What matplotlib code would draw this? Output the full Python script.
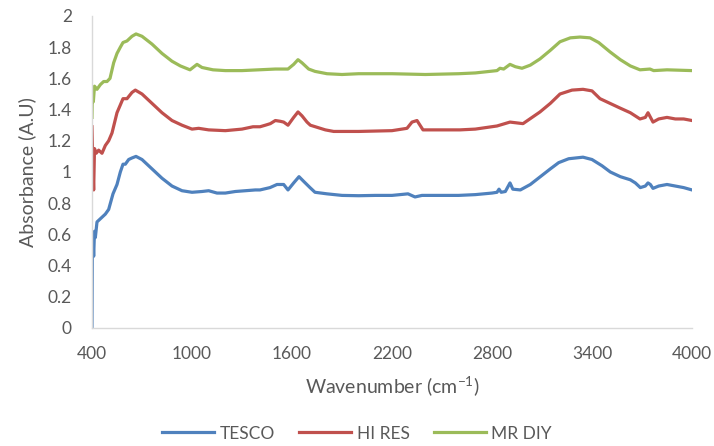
import matplotlib
matplotlib.use("Agg")
import matplotlib.pyplot as plt

tesco_x = [400, 402, 405, 410, 415, 420, 430, 450, 480, 500, 526, 550, 570, 586, 600, 620, 640, 664, 700, 760, 820, 880, 940, 1000, 1060, 1100, 1150, 1200, 1260, 1320, 1380, 1408, 1468, 1510, 1550, 1576, 1610, 1642, 1670, 1708, 1738, 1810, 1900, 2000, 2100, 2200, 2296, 2338, 2380, 2500, 2600, 2700, 2800, 2830, 2842, 2855, 2880, 2908, 2925, 2970, 3030, 3090, 3150, 3200, 3260, 3346, 3400, 3460, 3510, 3570, 3630, 3660, 3690, 3720, 3736, 3750, 3766, 3800, 3850, 3900, 3950, 4000]
tesco_y = [0.0, 0.45, 0.61, 0.46, 0.62, 0.58, 0.68, 0.70, 0.73, 0.76, 0.86, 0.92, 1.00, 1.05, 1.05, 1.08, 1.09, 1.10, 1.08, 1.02, 0.96, 0.91, 0.88, 0.87, 0.875, 0.88, 0.865, 0.865, 0.875, 0.88, 0.885, 0.885, 0.90, 0.92, 0.92, 0.885, 0.93, 0.97, 0.94, 0.90, 0.87, 0.86, 0.85, 0.848, 0.85, 0.85, 0.86, 0.84, 0.85, 0.85, 0.85, 0.855, 0.865, 0.87, 0.89, 0.87, 0.875, 0.93, 0.89, 0.885, 0.92, 0.97, 1.02, 1.06, 1.085, 1.095, 1.08, 1.04, 1.00, 0.97, 0.95, 0.93, 0.90, 0.91, 0.93, 0.92, 0.895, 0.91, 0.92, 0.91, 0.90, 0.885]

hires_x = [400, 405, 410, 415, 425, 440, 460, 480, 500, 520, 550, 570, 586, 610, 640, 660, 700, 760, 820, 880, 940, 1000, 1040, 1100, 1200, 1300, 1366, 1408, 1440, 1470, 1500, 1530, 1550, 1576, 1610, 1636, 1660, 1690, 1710, 1740, 1800, 1850, 2000, 2200, 2290, 2320, 2350, 2386, 2500, 2608, 2700, 2830, 2908, 2986, 3088, 3150, 3208, 3280, 3346, 3400, 3448, 3508, 3568, 3630, 3688, 3720, 3736, 3766, 3800, 3850, 3900, 3950, 4000]
hires_y = [1.29, 1.05, 0.885, 1.15, 1.12, 1.14, 1.12, 1.17, 1.20, 1.25, 1.38, 1.43, 1.47, 1.47, 1.51, 1.525, 1.50, 1.44, 1.38, 1.33, 1.30, 1.275, 1.28, 1.27, 1.265, 1.275, 1.29, 1.29, 1.30, 1.31, 1.33, 1.325, 1.32, 1.30, 1.35, 1.385, 1.36, 1.32, 1.30, 1.29, 1.27, 1.26, 1.26, 1.265, 1.28, 1.32, 1.33, 1.27, 1.27, 1.27, 1.275, 1.295, 1.32, 1.31, 1.385, 1.44, 1.50, 1.525, 1.53, 1.52, 1.47, 1.44, 1.41, 1.38, 1.34, 1.35, 1.38, 1.32, 1.34, 1.35, 1.34, 1.34, 1.33]

mrdiy_x = [400, 403, 408, 415, 430, 450, 470, 490, 508, 530, 550, 570, 586, 610, 640, 664, 700, 760, 820, 880, 930, 988, 1030, 1060, 1126, 1200, 1300, 1400, 1500, 1576, 1610, 1636, 1660, 1700, 1738, 1810, 1900, 2000, 2200, 2400, 2600, 2700, 2830, 2848, 2870, 2908, 2940, 2980, 3030, 3088, 3150, 3208, 3270, 3328, 3388, 3440, 3508, 3570, 3630, 3688, 3748, 3770, 3850, 4000]
mrdiy_y = [1.35, 1.54, 1.45, 1.55, 1.53, 1.56, 1.58, 1.58, 1.60, 1.70, 1.76, 1.80, 1.83, 1.84, 1.87, 1.885, 1.87, 1.82, 1.76, 1.71, 1.68, 1.655, 1.69, 1.67, 1.655, 1.65, 1.65, 1.655, 1.66, 1.66, 1.69, 1.72, 1.70, 1.66, 1.645, 1.63, 1.625, 1.63, 1.63, 1.625, 1.63, 1.635, 1.65, 1.665, 1.66, 1.69, 1.675, 1.665, 1.685, 1.725, 1.78, 1.835, 1.86, 1.865, 1.86, 1.83, 1.77, 1.72, 1.68, 1.655, 1.66, 1.65, 1.655, 1.65]

series = [("TESCO", tesco_x, tesco_y, "#4F81BD"),
          ("HI RES", hires_x, hires_y, "#C0504D"),
          ("MR DIY", mrdiy_x, mrdiy_y, "#9BBB59")]

xticks = [400, 1000, 1600, 2200, 2800, 3400, 4000]
yticks = [0, 0.2, 0.4, 0.6, 0.8, 1, 1.2, 1.4, 1.6, 1.8, 2]
ytick_labels = ["0", "0.2", "0.4", "0.6", "0.8", "1", "1.2", "1.4", "1.6", "1.8", "2"]

plt.rcParams['font.family'] = ['Lato', 'DejaVu Sans']
plt.rcParams['mathtext.fontset'] = 'custom'
plt.rcParams['mathtext.rm'] = 'Lato'
plt.rcParams['mathtext.it'] = 'Lato'

txt = "#595959"
fig = plt.figure(figsize=(7.14, 4.46), dpi=100)
ax = fig.add_axes([92/714, 1-328/446, 600/714, 312/446])

for name, xs, ys, c in series:
    ax.plot(xs, ys, color=c, lw=2.3, label=name, solid_joinstyle='round')

ax.set_xlim(400, 4000)
ax.set_ylim(0, 2)
ax.set_xticks(xticks)
ax.set_xticklabels([str(v) for v in xticks])
ax.set_yticks(yticks)
ax.set_yticklabels(ytick_labels)
ax.tick_params(length=0, labelsize=12.5, colors=txt)
ax.tick_params(axis='y', pad=14.5)
ax.tick_params(axis='x', pad=13)
for s in ['top', 'right']:
    ax.spines[s].set_visible(False)
for s in ['left', 'bottom']:
    ax.spines[s].set_color('#D9D9D9')
    ax.spines[s].set_linewidth(1.0)

ax.set_xlabel("Wavenumber (cm$^{\\mathregular{-1}}$)", fontsize=14, color=txt, labelpad=8.5)
ax.set_ylabel("Absorbance (A.U)", fontsize=14, color=txt, labelpad=8)

leg = fig.legend(loc='lower center', ncol=3, frameon=False, fontsize=12.5,
                 bbox_to_anchor=(0.5, -0.025), handlelength=3.0, columnspacing=1.4,
                 handletextpad=0.3)
for t in leg.get_texts():
    t.set_color(txt)

fig.savefig("out.png", dpi=100)
